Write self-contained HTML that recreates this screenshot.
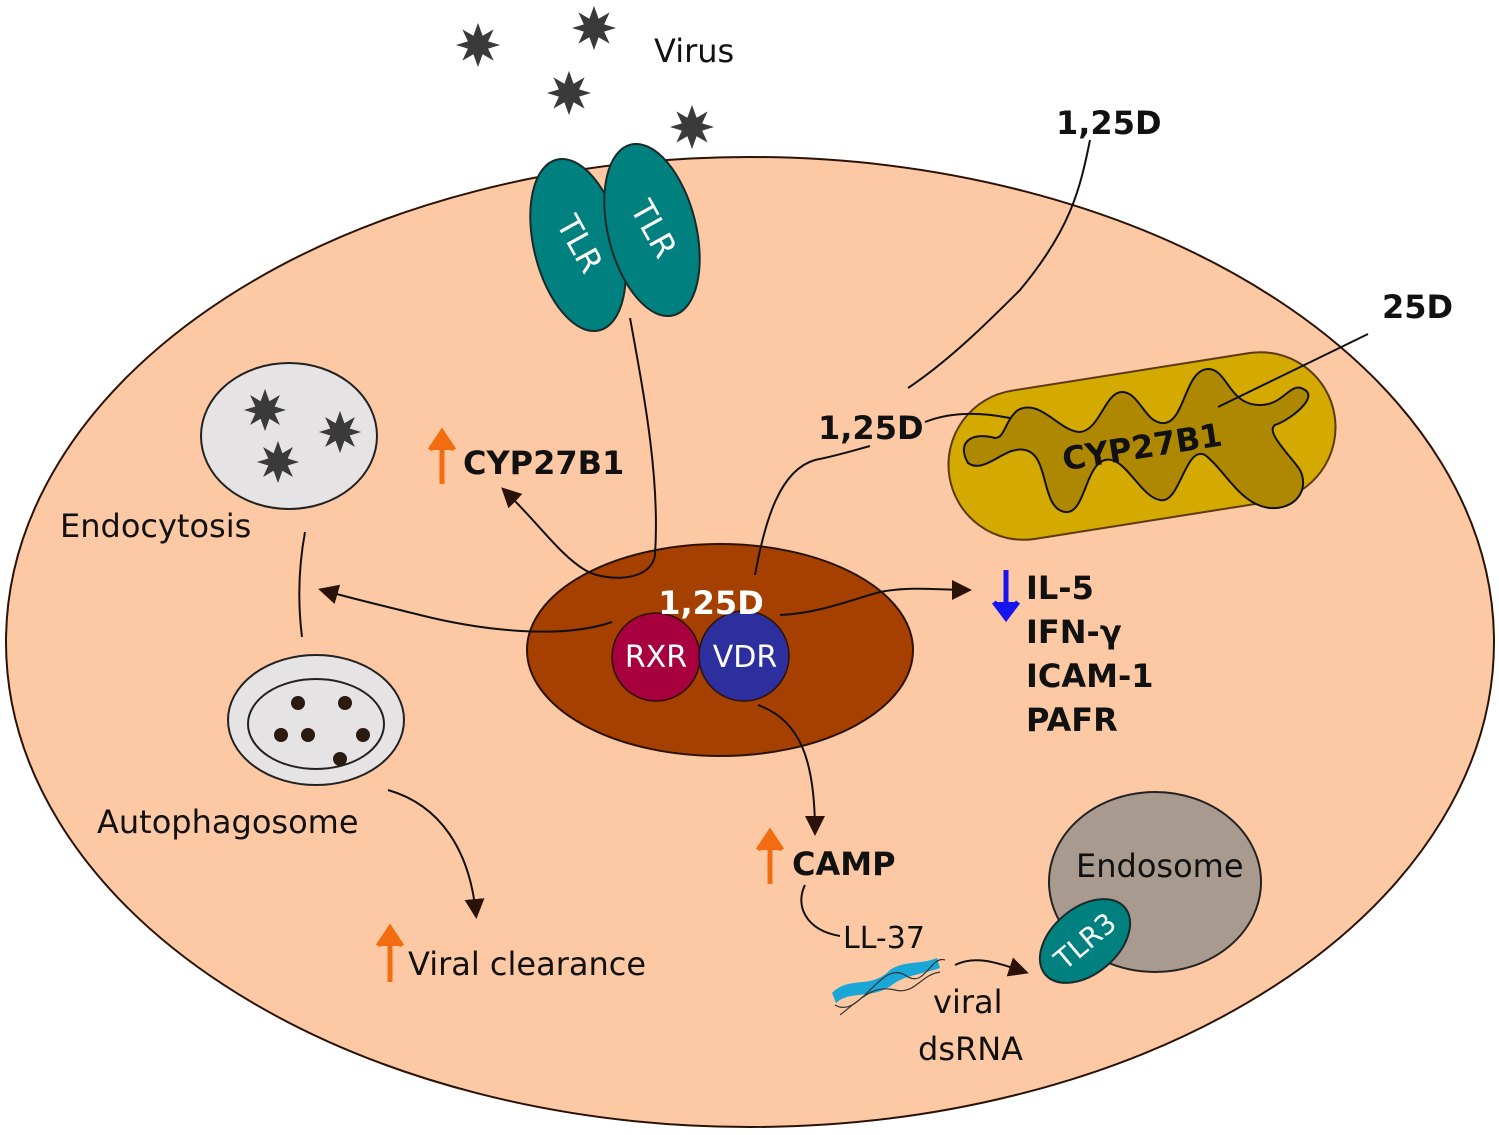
<!DOCTYPE html>
<html><head><meta charset="utf-8"><style>
html,body{margin:0;padding:0;background:#fff;}
svg{display:block;}
text{font-family:"DejaVu Sans","Liberation Sans",sans-serif;}
.b{font-weight:bold;}
</style></head><body>
<svg width="1499" height="1135" viewBox="0 0 1499 1135" xmlns="http://www.w3.org/2000/svg">
<defs>
<marker id="ah" markerWidth="10" markerHeight="10" refX="8" refY="5" orient="auto" markerUnits="userSpaceOnUse" viewBox="0 0 10 10">
<path d="M0,0 L10,5 L0,10 z" fill="#2a1208"/></marker>
<marker id="ahb" markerWidth="20" markerHeight="20" refX="16" refY="10" orient="auto" markerUnits="userSpaceOnUse" viewBox="0 0 20 20">
<path d="M0,0 L20,10 L0,20 z" fill="#2a1208"/></marker>
<symbol id="star" viewBox="-25 -25 50 50">
<polygon points="0,-24 5,-10 17,-17 11,-4 24,0 11,4 17,17 5,10 0,24 -5,10 -17,17 -11,4 -24,0 -11,-4 -17,-17 -5,-10" fill="#3a3a3a"/>
</symbol>
</defs>

<!-- cell -->
<ellipse cx="750" cy="642" rx="744" ry="485" fill="#fdc9a4" stroke="#2a1208" stroke-width="2"/>

<!-- viruses outside -->
<g>
<use href="#star" x="455" y="22" width="46" height="46"/>
<use href="#star" x="571" y="5" width="46" height="46"/>
<use href="#star" x="546" y="70" width="46" height="46"/>
<use href="#star" x="669" y="104" width="46" height="46"/>
</g>
<text x="654" y="62" font-size="32" fill="#111">Virus</text>

<!-- TLRs -->
<g transform="translate(578,245) rotate(-14)">
<ellipse rx="44" ry="88" fill="#00807e" stroke="#1a2a2a" stroke-width="2"/>
<text x="0" y="0" font-size="32" fill="#fff" text-anchor="middle" dominant-baseline="middle" transform="rotate(75)">TLR</text>
</g>
<g transform="translate(652,230) rotate(-14)">
<ellipse rx="44" ry="88" fill="#00807e" stroke="#1a2a2a" stroke-width="2"/>
<text x="0" y="0" font-size="32" fill="#fff" text-anchor="middle" dominant-baseline="middle" transform="rotate(75)">TLR</text>
</g>

<!-- labels top right -->
<text class="b" x="1056" y="134" font-size="32" fill="#111">1,25D</text>
<text class="b" x="1382" y="318" font-size="32" fill="#111">25D</text>

<!-- mitochondrion -->
<g>
<rect x="947" y="371" width="390" height="150" rx="75" fill="#d4a900" stroke="#5a3a10" stroke-width="2" transform="rotate(-9 1142 446)"/>
<path d="M968,463 C955,440 975,432 995,438 C1005,438 1005,420 1018,410 C1040,398 1060,432 1080,432 C1100,430 1105,392 1122,392 C1140,392 1145,425 1165,423 C1185,420 1185,370 1208,369 C1228,369 1228,405 1260,405 C1285,405 1290,380 1305,390 C1318,398 1290,420 1275,425 C1265,432 1290,455 1300,470 C1310,490 1295,510 1270,508 C1240,505 1225,470 1205,455 C1185,445 1180,505 1160,500 C1140,497 1125,455 1105,460 C1085,465 1085,515 1065,512 C1040,508 1050,455 1025,450 C1005,445 985,475 968,463 Z" fill="#ad8800" stroke="#111" stroke-width="2"/>
<text class="b" x="1142" y="458" font-size="32" fill="#111" text-anchor="middle" transform="rotate(-9 1142 446)">CYP27B1</text>
</g>

<!-- lines top right -->
<path d="M1090,140 C1080,190 1070,230 1020,290 C990,320 950,360 908,388" fill="none" stroke="#111" stroke-width="2"/>
<path d="M1368,334 L1218,407" fill="none" stroke="#111" stroke-width="2"/>
<path d="M1010,418 C980,412 950,412 925,422" fill="none" stroke="#111" stroke-width="2"/>
<text class="b" x="818" y="439" font-size="32" fill="#111">1,25D</text>

<!-- endocytosis -->
<ellipse cx="289" cy="436" rx="88" ry="73" fill="#e5e3e3" stroke="#222" stroke-width="2"/>
<use href="#star" x="243" y="388" width="44" height="44"/>
<use href="#star" x="318" y="410" width="44" height="44"/>
<use href="#star" x="256" y="440" width="44" height="44"/>
<text x="60" y="537" font-size="32" fill="#111">Endocytosis</text>
<path d="M305,532 C298,570 298,605 302,637" fill="none" stroke="#111" stroke-width="2"/>

<!-- autophagosome -->
<g>
<ellipse cx="316" cy="720" rx="88" ry="65" fill="#e5e3e3" stroke="#222" stroke-width="2"/>
<ellipse cx="316" cy="724" rx="68" ry="45" fill="#e5e3e3" stroke="#222" stroke-width="2"/>
<circle cx="298" cy="703" r="7" fill="#2a1a10"/><circle cx="345" cy="703" r="7" fill="#2a1a10"/>
<circle cx="281" cy="735" r="7" fill="#2a1a10"/><circle cx="308" cy="735" r="7" fill="#2a1a10"/>
<circle cx="363" cy="735" r="7" fill="#2a1a10"/><circle cx="340" cy="759" r="7" fill="#2a1a10"/>
</g>
<text x="97" y="833" font-size="32" fill="#111">Autophagosome</text>
<path d="M388,790 C440,805 470,850 476,915" fill="none" stroke="#111" stroke-width="2" marker-end="url(#ahb)"/>
<text x="408" y="975" font-size="32" fill="#111">Viral clearance</text>
<path d="M390,982 L390,944 M378,946 L390,928 L402,946" stroke="#f26d12" stroke-width="5" fill="#f26d12"/>

<!-- nucleus -->
<ellipse cx="720" cy="650" rx="193" ry="106" fill="#a54000" stroke="#2a1208" stroke-width="2"/>
<circle cx="656" cy="657" r="44" fill="#a8003f" stroke="#2a1208" stroke-width="1.5"/>
<text x="656" y="667" font-size="30" fill="#fff" text-anchor="middle">RXR</text>
<circle cx="744" cy="656" r="45" fill="#2e2f9f" stroke="#2a1208" stroke-width="1.5"/>
<text x="745" y="667" font-size="30" fill="#fff" text-anchor="middle">VDR</text>
<text class="b" x="711" y="614" font-size="32" fill="#fff" text-anchor="middle">1,25D</text>

<!-- nucleus connections -->
<path d="M630,318 C645,400 660,480 655,555 C650,585 600,580 585,570 C560,555 540,525 504,490" fill="none" stroke="#111" stroke-width="2" marker-end="url(#ahb)"/>
<path d="M755,575 C765,520 780,470 815,460 C840,455 855,450 870,446" fill="none" stroke="#111" stroke-width="2"/>
<path d="M612,622 C560,640 480,630 420,615 C380,605 350,598 322,590" fill="none" stroke="#111" stroke-width="2" marker-end="url(#ahb)"/>
<path d="M780,615 C820,613 850,600 880,592 C910,586 940,590 968,590" fill="none" stroke="#111" stroke-width="2" marker-end="url(#ahb)"/>
<path d="M758,705 C800,720 815,760 815,832" fill="none" stroke="#111" stroke-width="2" marker-end="url(#ahb)"/>

<text class="b" x="463" y="474" font-size="32" fill="#111">CYP27B1</text>
<path d="M442,484 L442,448 M430,450 L442,432 L454,450" stroke="#f26d12" stroke-width="5" fill="#f26d12"/>

<g>
<path d="M1006,570 L1006,606 M994,602 L1006,618 L1018,602" stroke="#1515ee" stroke-width="5" fill="#1515ee"/>
<text class="b" x="1026" y="599" font-size="32" fill="#111">IL-5</text>
<text class="b" x="1026" y="643" font-size="32" fill="#111">IFN-γ</text>
<text class="b" x="1026" y="687" font-size="32" fill="#111">ICAM-1</text>
<text class="b" x="1026" y="731" font-size="32" fill="#111">PAFR</text>
</g>

<!-- CAMP -->
<path d="M770,884 L770,848 M758,850 L770,832 L782,850" stroke="#f26d12" stroke-width="5" fill="#f26d12"/>
<text class="b" x="792" y="875" font-size="32" fill="#111">CAMP</text>
<path d="M805,885 C795,905 805,930 840,936" fill="none" stroke="#111" stroke-width="2"/>
<text x="843" y="948" font-size="30" fill="#111">LL-37</text>

<!-- dsRNA -->
<g>
<path d="M832,993 C850,975 870,990 890,970 C905,960 920,965 937,958 L940,968 C920,975 905,975 892,985 C872,1000 850,990 836,1003 Z" fill="#1aa7d7"/>
<path d="M835,1005 C860,1020 880,960 905,975 C925,990 930,955 945,960" fill="none" stroke="#333" stroke-width="1.2"/>
<path d="M840,1015 C865,995 875,985 895,990 C915,995 920,975 940,972" fill="none" stroke="#333" stroke-width="1.2"/>
</g>
<text x="933" y="1013" font-size="32" fill="#111">viral</text>
<text x="918" y="1060" font-size="32" fill="#111">dsRNA</text>
<path d="M955,965 C975,955 995,962 1025,972" fill="none" stroke="#111" stroke-width="2" marker-end="url(#ahb)"/>

<!-- endosome -->
<ellipse cx="1155" cy="882" rx="106" ry="90" fill="#a89a8f" stroke="#222" stroke-width="2"/>
<text x="1076" y="877" font-size="32" fill="#111">Endosome</text>
<g transform="translate(1085,941) rotate(-40)">
<ellipse rx="52" ry="33" fill="#00807e" stroke="#1a2a2a" stroke-width="2"/>
<text x="0" y="10" font-size="28" fill="#fff" text-anchor="middle">TLR3</text>
</g>
</svg>
</body></html>
